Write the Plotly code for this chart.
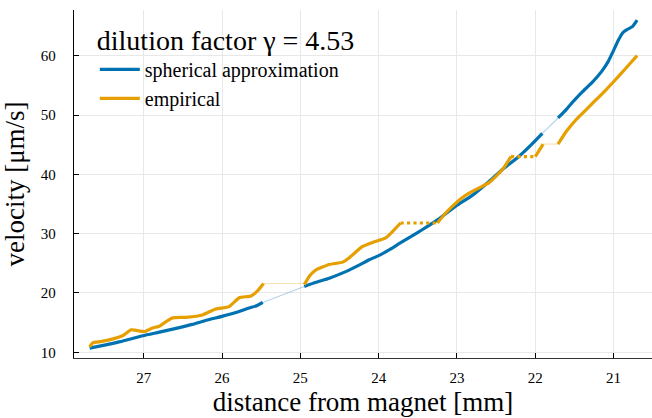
import plotly.graph_objects as go

# ---------------- data ----------------
# spherical approximation: three densely sampled segments
sph_x1 = [27.69, 27.50, 27.30, 27.01, 26.80, 26.60, 26.38, 26.20, 25.99, 25.80, 25.69, 25.55, 25.48]
sph_y1 = [10.7, 11.2, 11.8, 12.8, 13.4, 14.0, 14.7, 15.4, 16.1, 16.8, 17.3, 17.9, 18.4]
sph_x2 = [24.95, 24.80, 24.63, 24.42, 24.25, 24.12, 24.00, 23.85, 23.74, 23.60, 23.44, 23.23, 23.02, 22.80, 22.59, 22.42, 22.21, 22.05, 21.91]
sph_y2 = [21.1, 21.8, 22.5, 23.6, 24.7, 25.6, 26.3, 27.4, 28.3, 29.4, 30.7, 32.5, 34.6, 36.5, 38.8, 40.8, 43.0, 45.0, 46.9]
sph_x3 = [21.71, 21.60, 21.50, 21.40, 21.28, 21.15, 21.07, 21.00, 20.94, 20.88, 20.83, 20.76, 20.70]
sph_y3 = [49.5, 51.0, 52.5, 53.9, 55.4, 57.4, 59.0, 60.9, 62.6, 63.9, 64.4, 64.9, 66.0]

# empirical: densely sampled segments, plateaus and gaps
emp_x1 = [27.69, 27.65, 27.55, 27.44, 27.27, 27.16, 27.10, 26.99, 26.89, 26.80, 26.70, 26.63, 26.46, 26.25, 26.08, 25.91, 25.78, 25.63, 25.55, 25.47]
emp_y1 = [10.9, 11.6, 11.8, 12.1, 12.8, 13.8, 13.7, 13.5, 14.1, 14.4, 15.3, 15.8, 15.9, 16.3, 17.3, 17.7, 19.2, 19.5, 20.3, 21.6]
emp_x2 = [24.95, 24.88, 24.80, 24.63, 24.46, 24.38, 24.21, 24.08, 23.91, 23.82, 23.72]
emp_y2 = [21.4, 22.9, 23.9, 24.8, 25.2, 25.9, 27.8, 28.5, 29.3, 30.4, 31.8]
emp_x3 = [23.25, 23.15, 23.06, 22.95, 22.85, 22.72, 22.59, 22.42, 22.31]
emp_y3 = [31.8, 33.4, 34.6, 35.9, 36.8, 37.7, 38.6, 40.8, 43.0]
emp_x4 = [21.71, 21.60, 21.48, 21.35, 21.23, 21.10, 20.98, 20.85, 20.70]
emp_y4 = [45.1, 47.3, 49.2, 50.9, 52.5, 54.2, 55.9, 57.8, 60.0]
# plateaus of the empirical curve (dotted = sampled, thin = not sampled)
emp_plateau_dotted_x = [[23.72, 23.25], [22.31, 22.00]]
emp_plateau_dotted_y = [[31.8, 31.8], [43.0, 43.0]]
emp_jump_x = [22.00, 21.90]
emp_jump_y = [43.0, 45.1]
emp_plateau_thin_x = [[25.47, 24.95], [21.90, 21.71]]
emp_plateau_thin_y = [[21.6, 21.6], [45.1, 45.1]]

x_ticks = [27, 26, 25, 24, 23, 22, 21]
y_ticks = [10, 20, 30, 40, 50, 60]

BLUE = "rgb(0,114,178)"
BLUE_L = "rgba(0,114,178,0.3)"
ORANGE = "rgb(230,159,0)"
ORANGE_L = "rgba(230,159,0,0.3)"
FONT = "Liberation Serif, Times New Roman, serif"

fig = go.Figure()

def thick(x, y, color, name=None, show=False, dash="solid"):
    fig.add_trace(go.Scatter(x=x, y=y, mode="lines", name=name, showlegend=show,
                             line=dict(color=color, width=3.2, dash=dash,
                                       shape="spline", smoothing=0.5),
                             hoverinfo="skip"))

def thin(x, y, color):
    fig.add_trace(go.Scatter(x=x, y=y, mode="lines", showlegend=False,
                             line=dict(color=color, width=1.2), hoverinfo="skip"))

# thin gap lines first
thin([sph_x1[-1], sph_x2[0]], [sph_y1[-1], sph_y2[0]], BLUE_L)
thin([sph_x2[-1], sph_x3[0]], [sph_y2[-1], sph_y3[0]], BLUE_L)
for px, py in zip(emp_plateau_thin_x, emp_plateau_thin_y):
    thin(px, py, ORANGE_L)

# blue dense segments
thick(sph_x1, sph_y1, BLUE, "spherical approximation", True)
thick(sph_x2, sph_y2, BLUE)
thick(sph_x3, sph_y3, BLUE)

# orange
thick(emp_x1, emp_y1, ORANGE, "empirical", True)
thick(emp_x2, emp_y2, ORANGE)
thick(emp_x3, emp_y3, ORANGE)
thick(emp_x4, emp_y4, ORANGE)
for px, py in zip(emp_plateau_dotted_x, emp_plateau_dotted_y):
    thick(px, py, ORANGE, dash="dot")
thick(emp_jump_x, emp_jump_y, ORANGE)

fig.update_layout(
    width=652, height=418,
    margin=dict(l=74, r=0, t=10, b=60),
    plot_bgcolor="white", paper_bgcolor="white",
    font=dict(family=FONT, color="black", size=15),
    legend=dict(
        title=dict(text="dilution factor γ = 4.53", font=dict(size=28, family=FONT, color="black")),
        x=0.036, y=0.99, xanchor="left", yanchor="top",
        bgcolor="rgba(255,255,255,0)", font=dict(size=20, family=FONT, color="black"),
        tracegroupgap=0, itemwidth=40,
    ),
)
fig.update_xaxes(
    range=[27.89, 20.51], tickvals=x_ticks, ticktext=[str(v) for v in x_ticks],
    showgrid=True, gridcolor="#e8e8e8", gridwidth=1, zeroline=False,
    showline=True, linecolor="#333333", linewidth=1.3,
    ticks="inside", ticklen=5, tickcolor="black",
    tickfont=dict(size=15, family=FONT, color="black"), ticklabelstandoff=6,
    title=dict(text="distance from magnet [mm]", font=dict(size=27, family=FONT, color="black"), standoff=6),
)
fig.update_yaxes(
    range=[9.04, 67.7], tickvals=y_ticks, ticktext=[str(v) for v in y_ticks],
    showgrid=True, gridcolor="#e8e8e8", gridwidth=1, zeroline=False,
    showline=True, linecolor="black", linewidth=1.3,
    ticks="inside", ticklen=5, tickcolor="black",
    tickfont=dict(size=15, family=FONT, color="black"), ticklabelstandoff=14,
    title=dict(text="velocity [μm/s]", font=dict(size=27, family=FONT, color="black"), standoff=10),
)

fig.write_html("out.html")
